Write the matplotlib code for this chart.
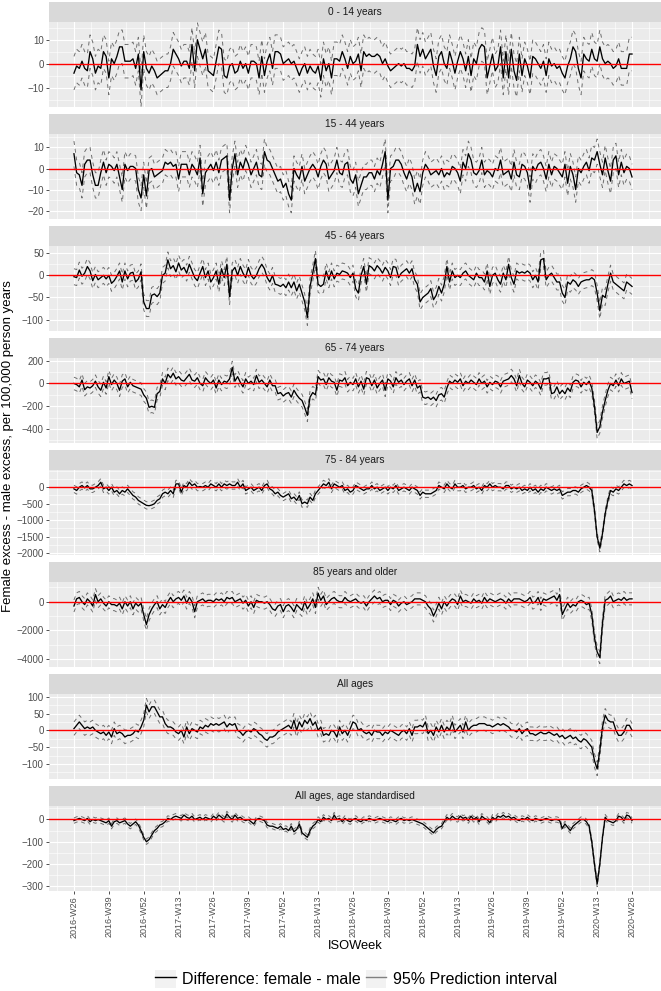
import numpy as np
import matplotlib.pyplot as plt
from matplotlib.lines import Line2D
from matplotlib.patches import Patch
from matplotlib.legend_handler import HandlerTuple
from matplotlib.ticker import MultipleLocator, FixedLocator

plt.rcParams['font.family'] = ['Liberation Sans', 'DejaVu Sans']

# ISO weeks 2016-W26 .. 2020-W26 (209 weeks), ticks every 13 weeks
tick_labels = ["2016-W26", "2016-W39", "2016-W52", "2017-W13", "2017-W26", "2017-W39",
               "2017-W52", "2018-W13", "2018-W26", "2018-W39", "2018-W52", "2019-W13",
               "2019-W26", "2019-W39", "2019-W52", "2020-W13", "2020-W26"]
n_weeks = 209
week = np.arange(n_weeks)

panel_titles = ["0 - 14 years", "15 - 44 years", "45 - 64 years", "65 - 74 years",
                "75 - 84 years", "85 years and older", "All ages", "All ages, age standardised"]

diff_0_14 = [
    -4, -1, -2, 1, -2, -3, 5, 2, -4, -1, -2, 5, 3,
    -6, 2, 0, 3, 7, 7, 1, 1, 1, 2, -2, 4, -11,
    5, -2, -4, -1, -3, -6, -5, -4, -3, -3, 0, 6, 4,
    2, -1, 1, 1, -2, 8, -3, 10, 6, 2, 6, -3, -4,
    -5, 1, 7, 6, -5, -6, -1, 0, -4, -3, 1, -2, 0,
    -4, 1, 1, 0, -6, 3, -5, 1, 4, -2, 5, 5, 4,
    0, 1, 2, 0, 1, -2, -5, -2, 0, -4, -1, -3, -4,
    -1, -7, 2, -3, 0, -6, 2, 2, 1, 5, 2, -2, 3,
    0, 1, 4, -3, 5, 3, 4, 3, 3, 4, 3, 0, 2,
    -1, -3, -2, -1, 0, -1, 0, -2, -2, -3, -1, 8, 3,
    6, 2, 4, 6, -1, -5, 3, 5, 0, -2, 5, 1, -4,
    1, 5, 2, -3, 3, -5, 2, 0, 6, 8, 7, -6, -1,
    4, -3, -1, 7, -6, 5, -6, 6, -3, -7, 4, -5, 2,
    -1, -6, 3, 2, 0, -2, 1, -5, 2, -1, 0, -2, -1,
    -4, -6, -1, 2, 7, 5, -2, -6, 4, 2, 1, 6, 2,
    1, 7, 2, 0, 1, 0, -2, -1, 2, -2, -2, -2, 4,
    4]

diff_15_44 = [
    7, -2, -3, -8, 2, 4, 4, -3, -8, -8, -2, 3, -2,
    2, 1, -1, 2, -4, -10, 2, -1, 1, 1, 0, -10, -14,
    -3, -13, -1, 0, -4, -3, -2, -1, 3, 2, 3, 1, 2,
    -5, 2, 2, 2, -3, 2, 0, -3, 5, -12, -2, 0, 2,
    -1, 3, -2, 4, 5, 6, -15, 0, 7, -3, 3, 0, 5,
    2, -3, 0, 3, -3, -4, 8, 4, 3, 0, -3, -6, -5,
    -9, -7, -12, -15, 0, -3, -5, 1, -6, -3, 0, 2, 0,
    -4, 1, 4, 2, -5, -3, -1, 4, -2, -3, 2, 3, -5,
    -7, -3, -12, -8, -4, -4, -2, -2, -5, -1, -3, 2, 8,
    -15, 0, 1, 4, 4, 2, -2, -5, -1, -4, -11, -7, -11,
    -2, 2, 0, -3, -2, -1, -3, 0, -4, -2, -3, 1, 0,
    -2, -6, 3, 0, 7, 4, -2, -3, -1, 4, -3, -1, -2,
    -4, 0, -1, 4, -3, -2, -1, -5, 3, -3, -4, 2, 1,
    -2, -10, 1, -1, 2, 3, 0, -5, 2, -3, 1, 0, -2,
    -4, 2, -7, 1, -3, -10, 0, -2, 1, 3, -1, 5, 4,
    8, 2, -3, 5, -1, -6, 4, 6, -3, 3, -2, 1, 0,
    -4]

diff_45_64 = [
    -3, -5, 12, -2, 5, 20, 10, -12, 2, -10, -5, 0, -8,
    0, -18, -12, -2, 10, -15, 10, -8, 5, 7, -15, -8, 8,
    -60, -75, -75, -45, -42, -48, -40, 0, 5, 35, 15, 22, 8,
    28, 12, 18, 5, 25, 10, -5, -12, 5, 20, -5, 10, -15,
    -5, 10, -20, 15, -5, 25, -48, 10, 18, 0, 20, 5, -5,
    18, 0, -8, 0, 15, 25, 15, -5, -15, 0, -20, -22, -25,
    -20, -28, -15, -28, -15, -35, -20, -40, -60, -95, -25, 5, 38,
    -20, -25, -20, 10, -10, 10, -8, 5, 2, 10, 8, 5, -5,
    5, -30, -40, 0, 20, -20, 22, 18, 10, 22, 15, 5, 18,
    10, -5, 20, 18, -5, 5, 10, 15, 5, 15, -10, -20, -60,
    -50, -45, -40, -30, -55, -45, -25, -40, -20, 20, -15, 10, -5,
    0, -5, 5, 10, 0, -5, -10, 5, -5, -5, -15, 10, -25,
    0, 5, -10, -20, 5, -10, 25, -5, -20, 10, 5, 8, 5,
    10, 5, -10, 0, -15, 35, 38, -10, 0, 5, -5, -15, -15,
    -40, -50, -15, -20, -10, -15, -25, -15, -12, -10, -10, -5, -10,
    -40, -80, -45, -50, -20, 5, -15, -20, -25, -30, -35, -15, -20,
    -25]

diff_65_74 = [
    0, -10, -30, 30, -55, -30, -40, -20, 20, -30, -60, 10, -40,
    60, -10, 30, 0, -60, 20, 40, -30, 10, -20, -30, -40, -50,
    -100, -130, -210, -200, -210, -90, -70, 40, 0, 80, 50, 90, 40,
    60, 30, 20, 50, 80, 30, 20, 50, 0, -20, 50, 20, 0,
    30, -40, 30, -10, 20, 10, 40, 140, 20, 60, 10, -30, 40,
    0, 20, -10, 70, 10, 30, 0, -30, 30, -20, -20, -90, -80,
    -110, -90, -80, -120, -60, -100, -130, -150, -210, -280, -120, -80, -100,
    60, 30, 40, -10, 50, 20, 10, -60, 30, 20, 50, -20, 10,
    -10, 40, -30, 20, -50, 50, 40, -20, 30, -40, 0, 30, -60,
    40, 20, -30, 50, 10, 30, -10, 20, 40, -20, 30, -40, -20,
    -120, -130, -120, -140, -120, -150, -100, -90, -120, -40, 20, 0, 30,
    10, 40, -20, 20, 0, 30, 10, -10, 40, 0, 20, -30, 10,
    -10, 20, 10, -30, 20, 30, 40, 70, 40, -20, 70, 0, -30,
    30, 10, -20, 20, 0, -50, 40, 40, 50, -90, -80, -30, -90,
    -60, -90, -40, -70, 10, 30, 20, -30, 10, -10, 20, -40, -200,
    -430, -380, -250, -150, -60, 0, -20, 30, -20, 40, 0, 10, 20,
    -80]

diff_75_84 = [
    -50, -100, 0, 50, -20, 50, -50, -50, 0, 50, 150, -50, 0,
    -100, 0, -150, -100, -200, -100, -150, -50, -150, -250, -300, -400, -450,
    -500, -550, -560, -540, -500, -400, -350, -200, -150, -200, -100, -200, 100,
    100, -150, 50, 0, 150, 50, 100, 0, 20, 0, 50, 0, 100,
    50, 0, 100, 0, 100, 50, 100, 50, 50, 150, 0, 100, -100,
    -50, 0, -100, -50, 0, -100, 50, 100, -50, -100, -200, -150, -250,
    -300, -250, -200, -350, -300, -400, -250, -500, -450, -500, -300, -400, -200,
    -100, 0, 100, 50, 150, -50, 100, 50, 0, 50, -100, -50, -150,
    -100, 50, 0, -50, -100, -50, -50, 50, -50, 0, -100, -50, 0,
    -100, 0, -50, 50, -100, -50, 0, -50, -100, 0, -50, -100, -250,
    -150, -200, -200, -200, -150, -100, 50, 0, -50, 100, 0, -50, 100,
    0, 0, 50, -50, 0, 0, 50, -50, 0, -100, 50, 0, 100,
    0, 50, 0, 0, -50, 50, 50, -50, 0, -50, 0, -100, -50,
    -100, 0, -100, -50, -150, -50, -100, 0, -50, -100, -50, -100, -50,
    -250, -200, -150, -150, -100, -100, -150, -50, 0, 50, 0, -100, -700,
    -1500, -1850, -1400, -800, -400, -100, -150, -50, -100, 0, 100, 50, 100,
    50]

diff_85_plus = [
    -300, 200, 300, 0, -200, 200, 0, -300, 500, 0, 200, -100, -300,
    0, -200, -200, -300, -100, -500, 0, -300, 0, -500, -100, -300, -100,
    -900, -1600, -900, -500, -200, 0, -500, -200, -400, 0, 300, 0, 200,
    300, 100, 400, -100, 300, 0, -700, 0, 100, 200, 0, 100, 100,
    0, 200, 100, 200, 0, 300, 200, 300, 0, 100, 200, -100, 100,
    -300, 0, -400, 100, 0, 0, -100, 0, -200, -500, -600, -300, -200,
    -700, -300, -200, -400, -700, -200, -400, -600, 0, -500, -200, 200, -400,
    600, 100, 400, -200, 0, 200, 300, 100, 0, 0, 300, 100, 0,
    100, 200, 0, -100, 0, -300, 0, 200, 400, 200, 300, 0, 100,
    100, -200, 100, 0, -300, -100, 0, -200, -100, 0, 200, 200, 200,
    100, 0, -300, -500, -1000, -600, -100, -500, 0, -300, 0, 200, 100,
    -200, 400, 0, 100, 0, -100, 200, 0, 100, -100, 300, 0, 200,
    100, 0, 100, 200, 100, -100, 200, 0, 200, 200, 200, 100, 0,
    100, 300, -100, 0, 300, -200, 200, 100, 200, 300, 400, 100, 500,
    -900, -500, -100, -400, -200, -300, 0, 100, 0, -200, -100, -900, -2500,
    -3500, -3900, -1500, 100, 200, 400, 0, 100, 200, 100, 300, 100, 200,
    200]

diff_all = [
    5, 15, 25, 15, 5, 10, 5, 10, 0, -5, -10, -5, -15,
    -5, -20, 5, -10, -5, -10, -20, -15, -15, -10, 0, -5, 10,
    30, 75, 55, 70, 70, 55, 40, 40, 20, 10, 10, 5, -5,
    -10, 0, -20, 10, -10, 5, 0, -5, 10, 5, 15, 10, 20,
    15, 20, 15, 20, 25, 10, 20, 15, 20, 0, -5, -15, -5,
    0, -5, 5, 0, -10, -15, -25, -30, -20, -20, -15, -5, 0,
    5, 10, 15, 5, 30, 0, 25, 10, 30, 20, 35, 15, 25,
    0, 10, -15, -10, -15, 0, -5, -20, 10, -10, 0, -15, 5,
    25, 20, 0, 5, -5, -10, -5, -15, 0, -5, -5, -15, -5,
    -10, 0, -5, -10, -15, -5, 0, -10, 5, -15, 10, 10, 15,
    10, 25, -10, 0, -15, 10, -5, 15, -5, 10, 0, 25, -5,
    5, 15, -5, 25, 0, 10, 15, 15, 20, 20, 20, 15, 15,
    10, 15, 20, 15, 20, 15, 10, 0, 0, -5, 5, -10, 0,
    5, -10, -10, -15, -10, -5, -10, -10, -5, -10, -15, -10, -20,
    -15, -25, -20, -15, -25, -20, -30, -35, -25, -30, -40, -50, -90,
    -115, -60, 10, 45, 30, 25, 25, 0, -15, -15, -5, 15, 15,
    0]

diff_all_std = [
    -5, 0, 5, 0, -5, 5, -10, 0, -5, 0, -5, -10, -15,
    -5, -30, -10, -5, -15, -10, -5, -20, -30, -20, -10, -25, -50,
    -80, -100, -90, -70, -50, -40, -25, -20, -10, 5, 0, 10, 15,
    10, 5, 20, 10, 5, 15, 0, 5, 10, 0, 10, 5, 0,
    15, 5, 20, 10, 0, 25, 10, 0, 20, 5, 10, 0, -5,
    0, -10, -20, 0, 5, 0, -5, -25, -30, -30, -35, -40, -30,
    -45, -40, -50, -30, -55, -45, -20, -60, -70, -80, -50, -30, -20,
    0, -10, 10, 0, 5, -5, 20, 0, 5, -10, 5, -5, -10,
    0, 5, -5, -10, 0, -5, 5, 0, -5, 0, 5, 0, -5,
    -10, 0, -5, -10, 0, 5, -5, 0, -5, 0, -5, -10, -15,
    -20, -30, -40, -50, -60, -45, -35, -30, -10, 10, 0, 15, 5,
    0, 15, 5, 10, -5, 15, 0, 10, -10, 15, 5, 0, -15,
    10, 0, 15, 10, 20, 10, 15, 5, 10, 0, -5, 5, 0,
    10, 0, -5, 5, 0, -5, 0, 5, 0, -5, 0, 0, -5,
    -40, -20, -35, -50, -30, -20, -10, 0, 0, -10, -30, -100, -200,
    -290, -200, -80, 10, -5, -10, -15, -5, 15, 10, -5, 20, 15,
    -5]

diffs = [diff_0_14, diff_15_44, diff_45_64, diff_65_74,
         diff_75_84, diff_85_plus, diff_all, diff_all_std]
# half width of the 95% prediction interval per panel
half_width = [7, 6, 18, 55, 110, 420, 20, 12]

yticks = [[-10, 0, 10], [-20, -10, 0, 10], [-100, -50, 0, 50], [-400, -200, 0, 200],
          [-2000, -1500, -1000, -500, 0], [-4000, -2000, 0], [-100, -50, 0, 50, 100],
          [-300, -200, -100, 0]]
ylims = [(-18, 17.5), (-23.8, 16.5), (-125, 67), (-520, 226),
         (-2045, 530), (-4540, 1400), (-144, 109), (-320, 62)]

W, H = 661, 991
fig = plt.figure(figsize=(W / 100, H / 100), dpi=100)
fig.patch.set_facecolor('white')

left, right = 49, 661
for k in range(8):
    top = 1.7 + 112 * k
    strip = fig.add_axes([left / W, 1 - (top + 20) / H, (right - left) / W, 20 / H])
    strip.set_facecolor('#D9D9D9')
    strip.set_xticks([])
    strip.set_yticks([])
    for s in strip.spines.values():
        s.set_visible(False)
    strip.text(0.5, 0.5, panel_titles[k], ha='center', va='center',
               fontsize=7.3, color='#1A1A1A', transform=strip.transAxes)

    ax = fig.add_axes([left / W, 1 - (top + 105) / H, (right - left) / W, 85 / H])
    ax.set_facecolor('#EBEBEB')
    for s in ax.spines.values():
        s.set_visible(False)

    d = np.array(diffs[k], dtype=float)
    hw = half_width[k]
    ax.plot(week, d + hw, color='#6E6E6E', lw=0.7, ls=(0, (4, 4)), zorder=2)
    ax.plot(week, d - hw, color='#6E6E6E', lw=0.7, ls=(0, (4, 4)), zorder=2)
    ax.plot(week, d, color='black', lw=0.95, zorder=3)
    ax.axhline(0, color='red', lw=1.0, zorder=4)

    ax.set_xlim(-9.3, 218.8)
    ax.set_ylim(*ylims[k])
    step = yticks[k][1] - yticks[k][0]
    ax.yaxis.set_major_locator(FixedLocator(yticks[k]))
    ax.yaxis.set_minor_locator(MultipleLocator(step / 2))
    ax.xaxis.set_major_locator(MultipleLocator(13))
    ax.xaxis.set_minor_locator(MultipleLocator(6.5))
    ax.grid(which='major', color='white', lw=0.8)
    ax.grid(which='minor', color='white', lw=0.4)
    ax.set_axisbelow(True)
    ax.tick_params(axis='y', which='major', length=2.2, width=0.6, color='#333333',
                   labelsize=7, labelcolor='#4D4D4D', pad=1.5)
    ax.tick_params(which='minor', length=0)
    if k < 7:
        ax.tick_params(axis='x', which='major', length=0, labelbottom=False)
    else:
        ax.set_xticks(week[::13])
        ax.set_xticklabels(tick_labels, rotation=90)
        ax.tick_params(axis='x', which='major', length=2.2, width=0.6, color='#333333',
                       labelsize=6.5, labelcolor='#4D4D4D', pad=1.5)
        ax.set_xlabel("ISOWeek", fontsize=9.3, labelpad=2)

fig.text(8 / W, 1 - 446 / H, "Female excess - male excess, per 100,000 person years",
         rotation=90, ha='center', va='center', fontsize=9.5)

h1 = (Patch(facecolor='#F2F2F2', edgecolor='none'), Line2D([], [], color='black', lw=1.0))
h2 = (Patch(facecolor='#F2F2F2', edgecolor='none'), Line2D([], [], color='#808080', lw=1.0))
fig.legend([h1, h2], ["Difference: female - male", "95% Prediction interval"],
           handler_map={tuple: HandlerTuple(ndivide=1)},
           loc='center', bbox_to_anchor=(356 / W, 1 - 979 / H), ncol=2, frameon=False,
           fontsize=11.5, handlelength=1.3, handleheight=1.3, handletextpad=0.4,
           columnspacing=0.3)

fig.savefig("out.png", dpi=100)
